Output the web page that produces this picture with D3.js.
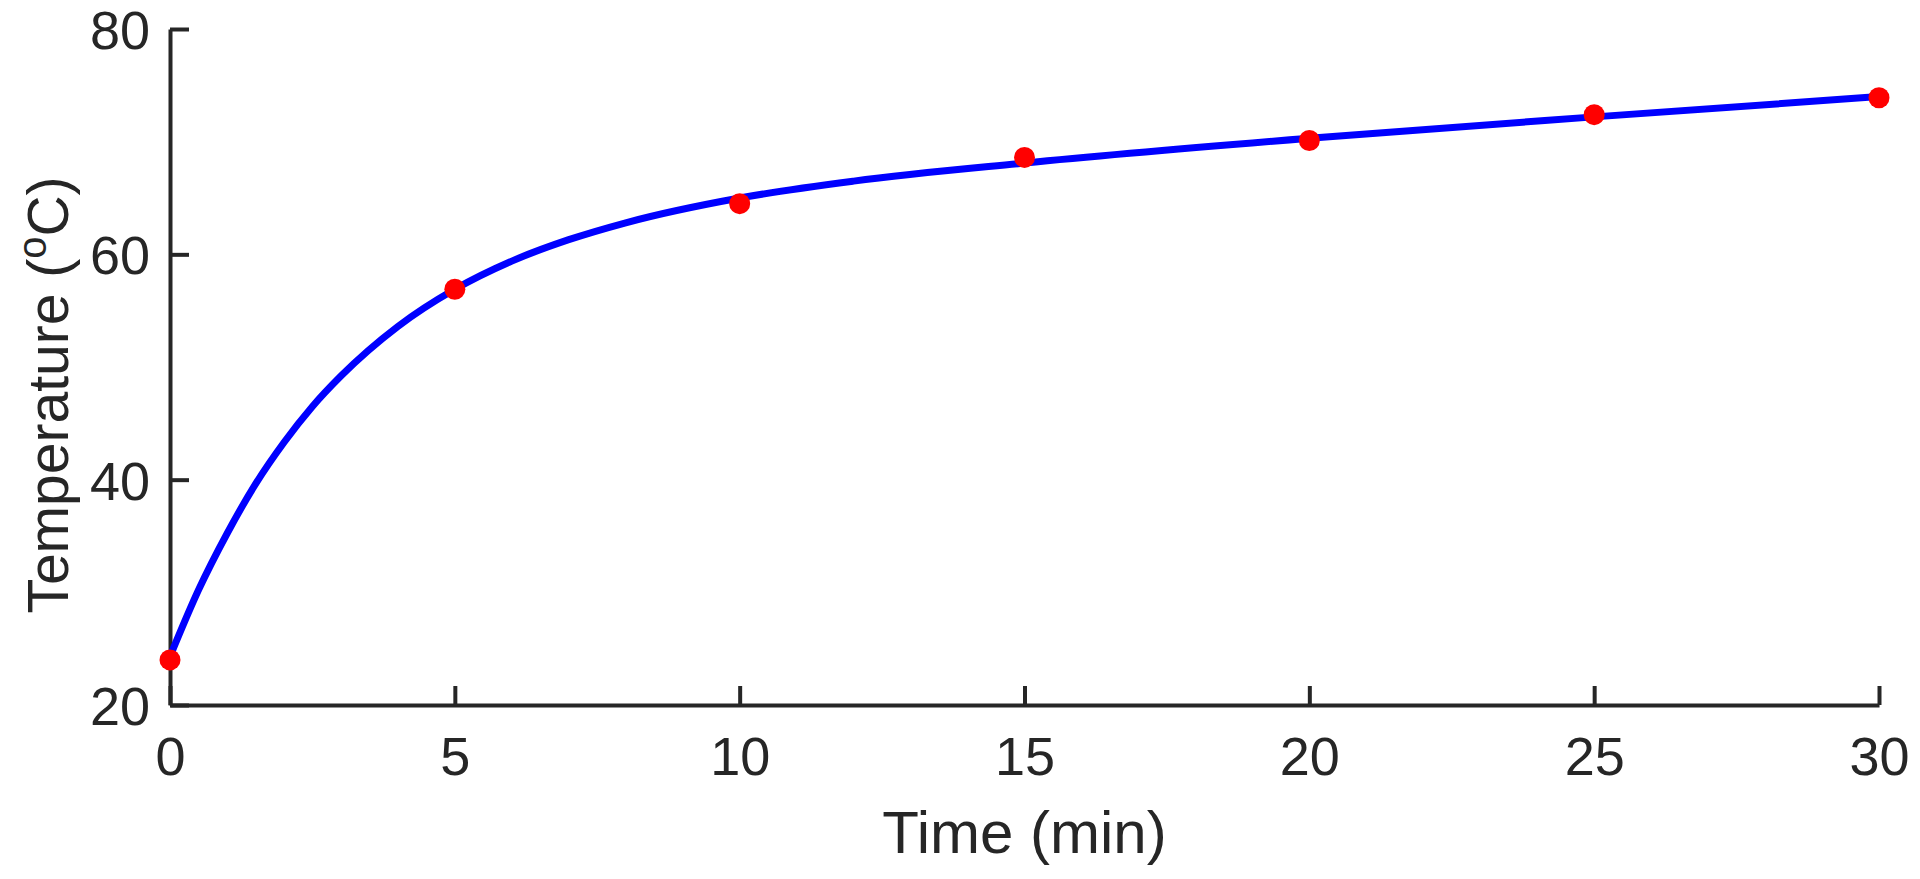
<!DOCTYPE html>
<html>
<head>
<meta charset="utf-8">
<script src="https://cdn.jsdelivr.net/npm/d3@7"></script>
<style>
  body { margin: 0; background: #fff; }
  svg text { font-family: "Liberation Sans", Arial, sans-serif; fill: #262626; }
</style>
</head>
<body>
<script>
//measured points (red dots)
var timeMin = [0, 5, 10, 15, 20, 25, 30];
var tempC = [24.0, 56.9, 64.5, 68.6, 70.1, 72.4, 73.9];

//fitted curve
var curveTime = [0, 0.5, 1, 1.5, 2, 2.5, 3, 4, 5, 6, 7, 8, 10, 12, 15, 20, 25, 30];
var curveTemp = [24.3, 30.2, 35.2, 39.6, 43.3, 46.5, 49.2, 53.6, 56.9, 59.4, 61.3, 62.8, 65.0, 66.5, 68.1, 70.3, 72.2, 74.0];

var xTicks = [0, 5, 10, 15, 20, 25, 30];
var yTicks = [20, 40, 60, 80];

//some constants
var margin = {top: 29, right: 41, bottom: 174, left: 170};
var W = 1920, H = 879;
var w = W - margin.left - margin.right;
var h = H - margin.top - margin.bottom;

var svg = d3.select('body')
            .append('svg')
            .attr('width', W)
            .attr('height', H);

var g = svg.append('g')
           .attr('transform', 'translate(' + margin.left + ',' + margin.top + ')');

var xScale = d3.scaleLinear().domain([0, 30]).range([0, w]);
var yScale = d3.scaleLinear().domain([20, 80]).range([h, 0]);

//axes, ticks pointing inward like matlab
var xAxis = d3.axisBottom(xScale)
              .tickValues(xTicks)
              .tickSizeInner(-19)
              .tickSizeOuter(0)
              .tickPadding(32);
var yAxis = d3.axisLeft(yScale)
              .tickValues(yTicks)
              .tickSizeInner(-19)
              .tickSizeOuter(0)
              .tickPadding(20);

var xg = g.append('g')
          .attr('transform', 'translate(0,' + h + ')')
          .call(xAxis);
var yg = g.append('g').call(yAxis);

[xg, yg].forEach(function (a) {
  a.select('.domain').attr('stroke', '#262626').attr('stroke-width', 4);
  a.selectAll('.tick line').attr('stroke', '#262626').attr('stroke-width', 4);
  a.selectAll('.tick text').style('font-size', '54px').attr('fill', '#262626');
});
yg.selectAll('.tick text').attr('dy', '0.36em');

//axis labels
svg.append('text')
   .attr('x', margin.left + w / 2)
   .attr('y', 853)
   .attr('text-anchor', 'middle')
   .style('font-size', '60px')
   .text('Time (min)');

var ylab = svg.append('text')
              .attr('transform', 'rotate(-90)')
              .attr('x', -395)
              .attr('y', 68)
              .attr('text-anchor', 'middle')
              .style('font-size', '57px');
ylab.append('tspan').text('Temperature (');
ylab.append('tspan').attr('baseline-shift', 'super').style('font-size', '40px').text('o');
ylab.append('tspan').text('C)');

//fit curve
var line = d3.line()
             .x(function (d, i) { return xScale(curveTime[i]); })
             .y(function (d) { return yScale(d); })
             .curve(d3.curveMonotoneX);

g.append('path')
 .datum(curveTemp)
 .attr('d', line)
 .attr('fill', 'none')
 .attr('stroke', '#0000ff')
 .attr('stroke-width', 7);

//data points
g.selectAll('circle')
 .data(tempC)
 .enter()
 .append('circle')
 .attr('cx', function (d, i) { return xScale(timeMin[i]); })
 .attr('cy', function (d) { return yScale(d); })
 .attr('r', 10.5)
 .attr('fill', '#ff0000');
</script>
</body>
</html>
